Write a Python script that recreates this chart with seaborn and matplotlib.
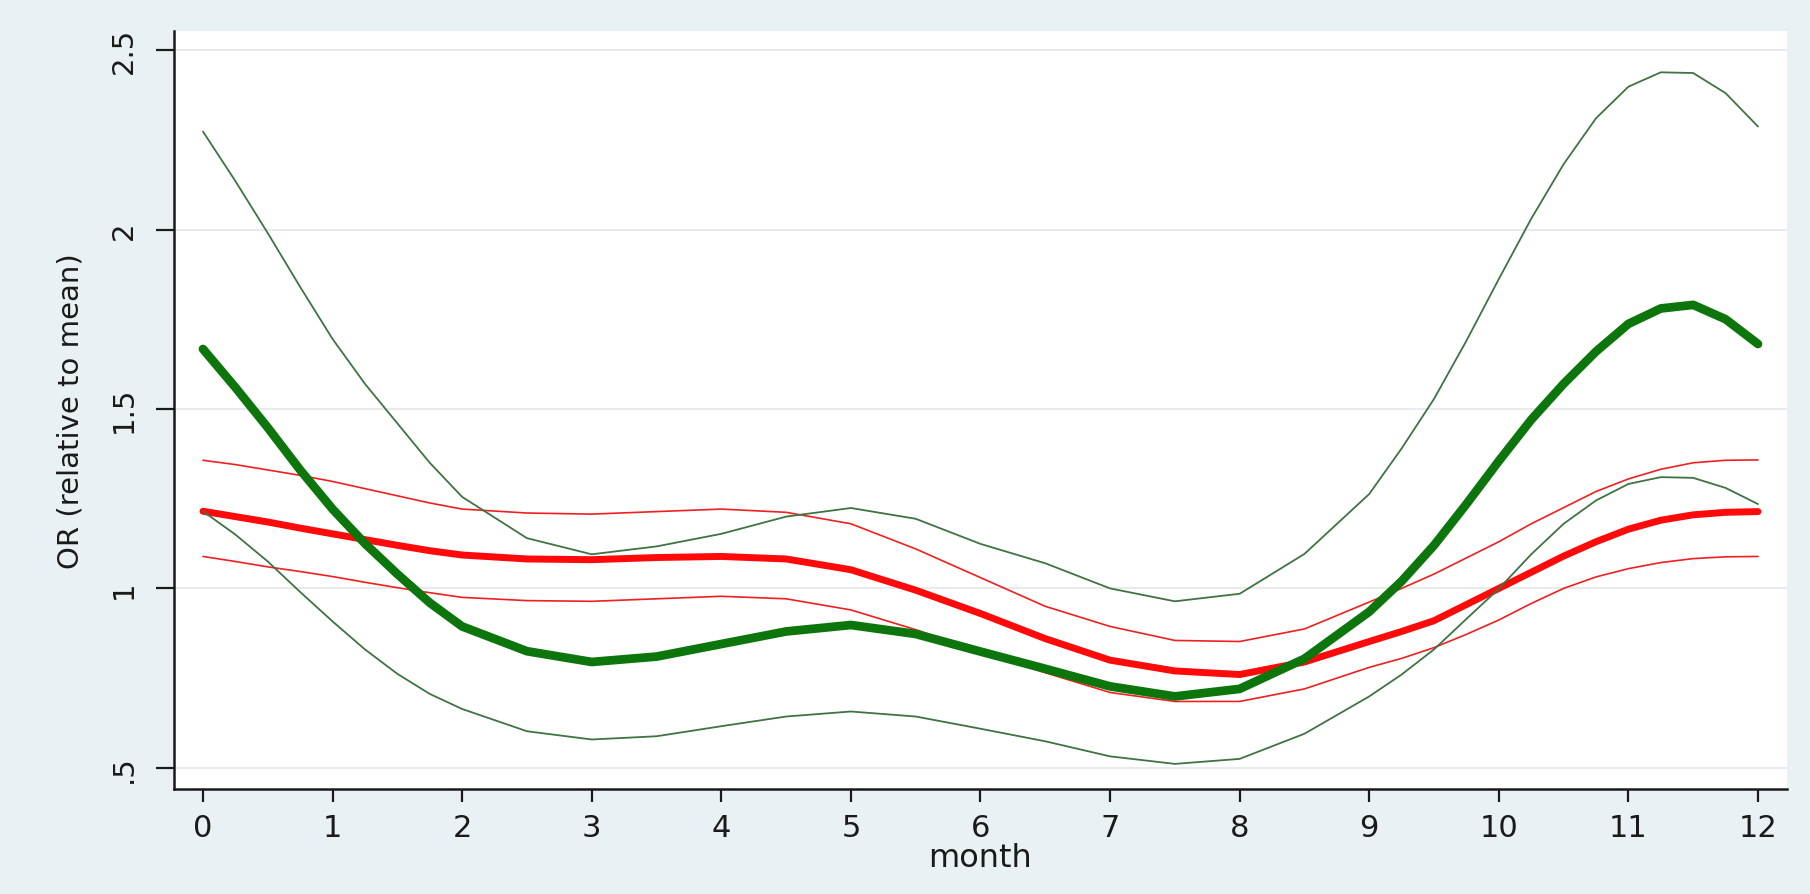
import matplotlib
matplotlib.use("Agg")
import matplotlib.pyplot as plt
import seaborn as sns
import pandas as pd

# values (finer steps where the curves bend most)
months = [0, 0.25, 0.5, 0.75, 1, 1.25, 1.5, 1.75, 2,
          2.5, 3, 3.5, 4, 4.5, 5, 5.5, 6, 6.5, 7, 7.5, 8, 8.5,
          9, 9.25, 9.5, 9.75, 10, 10.25, 10.5, 10.75, 11, 11.25, 11.5, 11.75, 12]

red_or = [1.215, 1.200, 1.185, 1.168, 1.152, 1.136, 1.120, 1.105, 1.093,
          1.082, 1.080, 1.086, 1.089, 1.082, 1.052, 0.995, 0.930, 0.860, 0.800, 0.770, 0.760, 0.795,
          0.852, 0.880, 0.910, 0.955, 1.000, 1.045, 1.090, 1.130, 1.165, 1.190, 1.205, 1.212, 1.214]
red_hi = [1.357, 1.345, 1.330, 1.315, 1.298, 1.278, 1.258, 1.238, 1.221,
          1.210, 1.207, 1.214, 1.221, 1.212, 1.180, 1.110, 1.030, 0.950, 0.894, 0.855, 0.852, 0.887,
          0.962, 1.000, 1.040, 1.085, 1.130, 1.180, 1.225, 1.270, 1.305, 1.332, 1.350, 1.357, 1.358]
red_lo = [1.089, 1.075, 1.060, 1.047, 1.033, 1.017, 1.002, 0.988, 0.975,
          0.966, 0.964, 0.971, 0.978, 0.971, 0.940, 0.885, 0.824, 0.765, 0.710, 0.685, 0.685, 0.720,
          0.780, 0.805, 0.835, 0.872, 0.912, 0.958, 1.000, 1.032, 1.055, 1.072, 1.083, 1.088, 1.089]

green_or = [1.667, 1.560, 1.448, 1.330, 1.221, 1.125, 1.040, 0.960, 0.894,
            0.825, 0.795, 0.810, 0.845, 0.880, 0.898, 0.873, 0.824, 0.776, 0.727, 0.699, 0.720, 0.804,
            0.935, 1.020, 1.120, 1.235, 1.355, 1.470, 1.570, 1.660, 1.737, 1.780, 1.790, 1.750, 1.681]
green_hi = [2.273, 2.135, 1.990, 1.840, 1.695, 1.570, 1.460, 1.350, 1.255,
            1.140, 1.095, 1.117, 1.152, 1.200, 1.224, 1.194, 1.124, 1.070, 1.000, 0.964, 0.985, 1.096,
            1.263, 1.390, 1.528, 1.690, 1.862, 2.030, 2.182, 2.310, 2.398, 2.438, 2.436, 2.380, 2.287]
green_lo = [1.215, 1.150, 1.075, 0.990, 0.908, 0.830, 0.762, 0.706, 0.664,
            0.602, 0.579, 0.588, 0.616, 0.643, 0.657, 0.643, 0.609, 0.574, 0.532, 0.511, 0.525, 0.595,
            0.699, 0.760, 0.830, 0.915, 0.999, 1.095, 1.180, 1.245, 1.291, 1.310, 1.308, 1.280, 1.235]

ytick_vals = [0.5, 1, 1.5, 2, 2.5]
ytick_labels = [".5", "1", "1.5", "2", "2.5"]
xtick_vals = list(range(13))


def build_frame():
    df = pd.DataFrame({
        "month": months,
        "red_or": red_or, "red_hi": red_hi, "red_lo": red_lo,
        "green_or": green_or, "green_hi": green_hi, "green_lo": green_lo,
    })
    return df


def make_plot(df):
    sns.set_theme(style="white")
    plt.rcParams["font.family"] = ["DejaVu Sans"]

    bg = "#eaf1f4"
    ink = "#1a1a1a"
    fig = plt.figure(figsize=(18.1, 8.95), dpi=100, facecolor=bg)
    ax = fig.add_axes([0.0961, 0.1173, 0.8912, 0.8469])
    ax.set_facecolor("white")

    # horizontal grid like the stata scheme
    for v in ytick_vals:
        ax.axhline(v, color="#e4e6e8", lw=1.2, zorder=0)

    line_kw = dict(solid_joinstyle="round", solid_capstyle="round")

    # red model: thin CI lines then thick estimate
    sns.lineplot(data=df, x="month", y="red_hi", color="#f02020", lw=1.2, ax=ax, **line_kw)
    sns.lineplot(data=df, x="month", y="red_lo", color="#f02020", lw=1.2, ax=ax, **line_kw)
    sns.lineplot(data=df, x="month", y="red_or", color="#ff0a0a", lw=5.0, ax=ax, **line_kw)

    # green model on top
    sns.lineplot(data=df, x="month", y="green_hi", color="#3f7343", lw=1.3, ax=ax, **line_kw)
    sns.lineplot(data=df, x="month", y="green_lo", color="#3f7343", lw=1.3, ax=ax, **line_kw)
    sns.lineplot(data=df, x="month", y="green_or", color="#0c760c", lw=6.3, ax=ax, **line_kw)

    ax.set_xlim(-0.224, 12.224)
    ax.set_ylim(0.441, 2.553)
    ax.set_xticks(xtick_vals)
    ax.set_xticklabels([str(m) for m in xtick_vals], fontsize=22, color=ink)
    ax.set_yticks(ytick_vals)
    ax.set_yticklabels(ytick_labels, fontsize=21, color=ink, rotation=90, va="center")

    ax.set_xlabel("month", fontsize=23, color=ink, labelpad=0)
    ax.set_ylabel("OR (relative to mean)", fontsize=21, color=ink, va="center")
    ax.yaxis.set_label_coords(-0.064, 0.5)

    for side in ["top", "right"]:
        ax.spines[side].set_visible(False)
    for side in ["left", "bottom"]:
        ax.spines[side].set_color(ink)
        ax.spines[side].set_linewidth(1.8)

    ax.tick_params(axis="x", direction="out", length=9, width=1.6, color=ink,
                   bottom=True, pad=8)
    ax.tick_params(axis="y", direction="out", length=13, width=1.6, color=ink,
                   left=True, pad=13)

    fig.savefig("out.png", dpi=100, facecolor=bg)


def main():
    df = build_frame()
    make_plot(df)


if __name__ == "__main__":
    main()
